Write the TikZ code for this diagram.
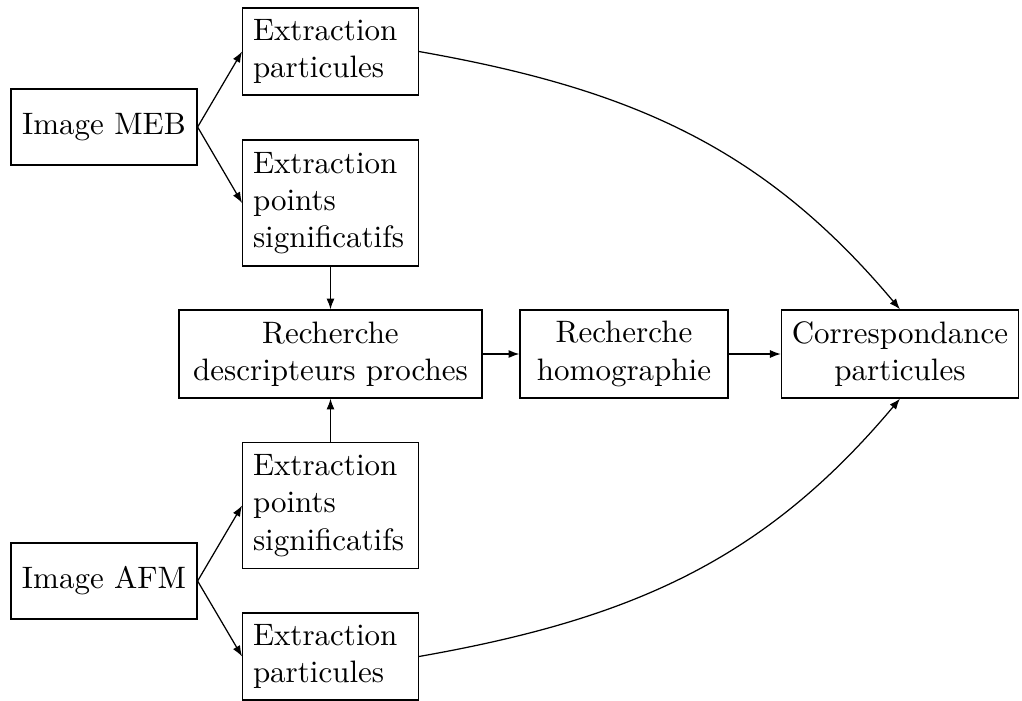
\documentclass[tikz,border=0pt]{standalone}
\usetikzlibrary{arrows.meta}
\begin{document}
\begin{tikzpicture}[x=0.3226pt,y=0.3226pt,
  box/.style={draw,rectangle,inner sep=3.33pt},
  imgbox/.style={box,minimum width=60pt,minimum height=24.5pt},
  extbox/.style={box,align=left,text width=50pt},
  midbox/.style={box,align=center,minimum height=28.4pt},
  arr/.style={-{Latex[length=3.5pt,width=2.6pt]}}]
\useasboundingbox (0,0) rectangle (1022,-700);
\node[imgbox] (meb) at (104,-127) {Image MEB};
\node[imgbox] (afm) at (104,-581) {Image AFM};
\node[extbox,minimum height=28.1pt] (ep1) at (330.5,-51.5) {Extraction\\particules};
\node[extbox,minimum height=40.6pt] (es1) at (330.5,-203) {Extraction\\points\\significatifs};
\node[extbox,minimum height=40.6pt] (es2) at (330.5,-505.5) {Extraction\\points\\significatifs};
\node[extbox,minimum height=28.1pt] (ep2) at (330.5,-656.5) {Extraction\\particules};
\node[midbox,minimum width=97.7pt] (rd) at (330.5,-354) {Recherche\\descripteurs proches};
\node[midbox,minimum width=67.1pt] (rh) at (624,-354) {Recherche\\homographie};
\node[midbox,minimum width=74.8pt] (cp) at (900,-354) {Correspondance\\particules};
\draw[arr] (meb.east) -- (ep1.west);
\draw[arr] (meb.east) -- (es1.west);
\draw[arr] (afm.east) -- (es2.west);
\draw[arr] (afm.east) -- (ep2.west);
\draw[arr] (es1.south) -- (rd.north);
\draw[arr] (es2.north) -- (rd.south);
\draw[arr] (rd.east) -- (rh.west);
\draw[arr] (rh.east) -- (cp.west);
\draw[arr] (ep1.east) to[out=-10,in=130] (cp.north);
\draw[arr] (ep2.east) to[out=10,in=-130] (cp.south);
\end{tikzpicture}
\end{document}
